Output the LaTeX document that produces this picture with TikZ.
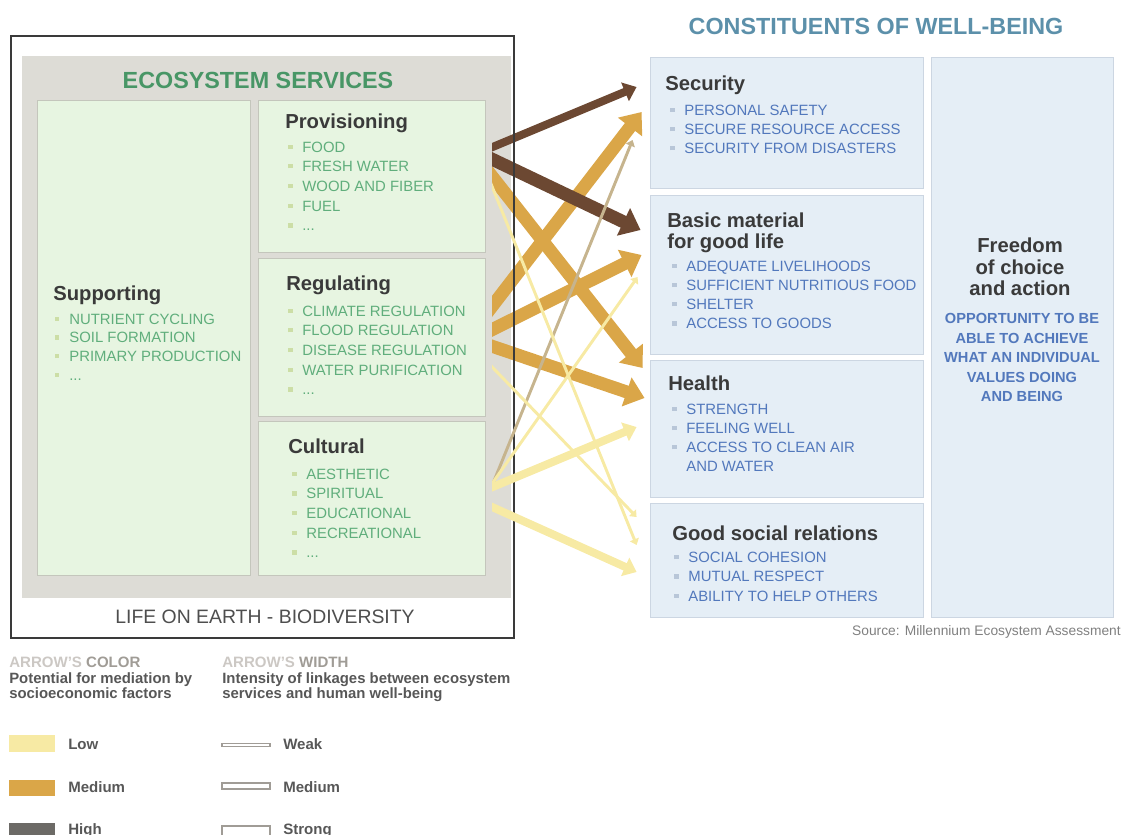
\documentclass[tikz,border=0pt]{standalone}
\usepackage{fontspec}
\setmainfont{Liberation Sans}
\usetikzlibrary{arrows.meta,calc,fit}
% panel and text colours
\definecolor{esgreen}{RGB}{72,150,102}
\definecolor{itgreen}{RGB}{96,174,124}
\definecolor{bgreen}{RGB}{204,222,166}
\definecolor{pgreen}{RGB}{231,245,225}
\definecolor{pedge}{RGB}{196,198,188}
\definecolor{pgray}{RGB}{221,220,214}
\definecolor{wbblue}{RGB}{92,144,170}
\definecolor{itblue}{RGB}{82,120,188}
\definecolor{bblue}{RGB}{184,198,216}
\definecolor{pblue}{RGB}{229,238,246}
\definecolor{bedge}{RGB}{204,214,226}
\definecolor{hdgray}{RGB}{58,58,58}
\definecolor{lggray}{RGB}{204,200,196}
\definecolor{lgmid}{RGB}{160,156,150}
% arrow colours
\definecolor{lowc}{RGB}{247,234,164}
\definecolor{medc}{RGB}{218,166,72}
\definecolor{tanc}{RGB}{198,180,142}
\definecolor{highc}{RGB}{108,72,50}
\definecolor{highsw}{RGB}{108,106,102}

\newcommand{\gbul}{\textcolor{bgreen}{\rule[2.4pt]{3pt}{3pt}}\hspace{7pt}}
\newcommand{\bbul}{\textcolor{bblue}{\rule[2.4pt]{3pt}{3pt}}\hspace{7pt}}

\begin{document}
\begin{tikzpicture}[x=0.25mm, y=-0.25mm,
    svc/.style={draw=pedge, fill=pgreen, line width=0.6pt, inner sep=0pt},
    wb/.style={draw=bedge, fill=pblue, line width=0.6pt, inner sep=0pt},
    head/.style={font=\fontsize{14.4}{15.3}\selectfont\bfseries, text=hdgray, inner sep=0pt, anchor=base west},
    svclist/.style={font=\fontsize{10.6}{14}\selectfont, text=itgreen, align=left, inner sep=0pt, anchor=north west},
    wblist/.style={font=\fontsize{10.6}{13.7}\selectfont, text=itblue, align=left, inner sep=0pt, anchor=north west},
    title/.style={font=\fontsize{16.6}{18}\selectfont\bfseries, inner sep=0pt},
    link/.style={-{Triangle[length=1.5pt 1.3, width=2.5pt 2]}},
    weak/.style={line width=2.1pt},
    medw/.style={line width=5.7pt},
    strong/.style={line width=9.2pt},
    legtxt/.style={font=\fontsize{10.7}{10.7}\selectfont\bfseries, text=hdgray!85, inner sep=0pt, anchor=base west},
    swatch/.style={inner sep=0pt, draw=none},
    wsample/.style={inner sep=0pt, draw=lgmid, fill=white, line width=0.8pt},
]
\useasboundingbox (0,0) rectangle (1124,835);

% === ECOSYSTEM SERVICES ===
\node[swatch, fill=pgray, fit={(22,56) (511,598)}] (es) {};
\node[title, text=esgreen] (estitle) at (258,80) {ECOSYSTEM SERVICES};
\node[svc, fit={(37,100) (250,575)}] (supp) {};
\node[svc, fit={(258,100) (485,252)}] (prov) {};
\node[svc, fit={(258,258) (485,416)}] (reg) {};
\node[svc, fit={(258,421) (485,575)}] (cult) {};
\node[font=\fontsize{13.8}{14}\selectfont, text=hdgray!90, inner sep=0pt] (life) at (265,617) {LIFE ON EARTH - BIODIVERSITY};

% Supporting
\node[head] (supph) at (53,300) {Supporting};
\node[svclist, font=\fontsize{10.6}{13.3}\selectfont] (suppl) at (55,313.5) {\gbul NUTRIENT CYCLING\\ \gbul SOIL FORMATION\\ \gbul PRIMARY PRODUCTION\\ \gbul ...};

% Provisioning
\node[head] (provh) at (285,128) {Provisioning};
\node[svclist] (provl) at (288,141.5) {\gbul FOOD\\ \gbul FRESH WATER\\ \gbul WOOD AND FIBER\\ \gbul FUEL\\ \gbul ...};

% Regulating
\node[head] (regh) at (286,290) {Regulating};
\node[svclist] (regl) at (288,305.5) {\gbul CLIMATE REGULATION\\ \gbul FLOOD REGULATION\\ \gbul DISEASE REGULATION\\ \gbul WATER PURIFICATION\\ \gbul ...};

% Cultural
\node[head] (culth) at (288,453) {Cultural};
\node[svclist] (cultl) at (292,468.5) {\gbul AESTHETIC\\ \gbul SPIRITUAL\\ \gbul EDUCATIONAL\\ \gbul RECREATIONAL\\ \gbul ...};

% === CONSTITUENTS OF WELL-BEING ===
\node[title, text=wbblue] (wbtitle) at (876,26) {CONSTITUENTS OF WELL-BEING};
\node[wb, fit={(650,57) (923,188)}] (sec) {};
\node[wb, fit={(650,195) (923,354)}] (basic) {};
\node[wb, fit={(650,360) (923,497)}] (health) {};
\node[wb, fit={(650,503) (923,617)}] (social) {};
\node[wb, fit={(931,57) (1113,617)}] (free) {};

\node[head] (sech) at (665,90) {Security};
\node[wblist] (secl) at (670,104.5) {\bbul PERSONAL SAFETY\\ \bbul SECURE RESOURCE ACCESS\\ \bbul SECURITY FROM DISASTERS};

\node[head, anchor=north west, align=left] (basich) at (667,212.5) {Basic material\\for good life};
\node[wblist] (basicl) at (672,260.5) {\bbul ADEQUATE LIVELIHOODS\\ \bbul SUFFICIENT NUTRITIOUS FOOD\\ \bbul SHELTER\\ \bbul ACCESS TO GOODS};

\node[head] (healthh) at (668,390) {Health};
\node[wblist] (healthl) at (672,403.5) {\bbul STRENGTH\\ \bbul FEELING WELL\\ \bbul ACCESS TO CLEAN AIR\\ \hspace{10pt}AND WATER};

\node[head] (socialh) at (672,540) {Good social relations};
\node[wblist] (sociall) at (674,552) {\bbul SOCIAL COHESION\\ \bbul MUTUAL RESPECT\\ \bbul ABILITY TO HELP OTHERS};

\node[head, anchor=north, align=center] (freeh) at (1020,238) {Freedom\\of choice\\and action};
\node[wblist, anchor=north, align=center, font=\fontsize{10.4}{13.9}\selectfont\bfseries] (freel) at (1022,313) {OPPORTUNITY TO BE\\ABLE TO ACHIEVE\\WHAT AN INDIVIDUAL\\VALUES DOING\\AND BEING};

\node[font=\fontsize{9.8}{10}\selectfont, text=gray, inner sep=0pt, anchor=east] (src) at (1121,632) {Source: Millennium Ecosystem Assessment};

% === LINKS (cut flush at the panel edge) ===
\begin{scope}
\clip (492,0) rectangle (1124,835);
% medium mediation
\draw[link, medc, strong] ($(reg.east)+(0,-22)$) -- ($(sec.west)+(-8,-10.5)$);
\draw[link, medc, strong] ($(prov.east)+(0,-8)$) -- ($(health.west)+(-7,-60.5)$);
\draw[link, medc, strong] ($(reg.east)+(0,-4)$) -- ($(basic.west)+(-8,-19.5)$);
\draw[link, medc, strong] ($(reg.east)+(0,7)$) -- ($(health.west)+(-5,-30.5)$);
% high mediation
\draw[link, highc, medw] ($(prov.east)+(0,-26)$) -- ($(sec.west)+(-13,-35.5)$);
\draw[link, highc, strong] ($(prov.east)+(0,-20)$) -- ($(basic.west)+(-9,-44.5)$);
\end{scope}

\node[draw=hdgray, line width=1.4pt, inner sep=0pt, fit={(11,36) (514,638)}] (frame) {};

\begin{scope}
\clip (492,0) rectangle (1124,835);
% low mediation
\draw[link, tanc, weak] ($(cult.east)+(0,4)$) -- ($(sec.west)+(-17,17.5)$);
\draw[link, lowc, weak] ($(prov.east)+(0,-6)$) -- ($(social.west)+(-13,-15)$);
\draw[link, lowc, weak] ($(reg.east)+(0,23)$) -- ($(social.west)+(-13,-43)$);
\draw[link, lowc, weak] ($(cult.east)+(0,-5)$) -- ($(basic.west)+(-12,2.5)$);
\draw[link, lowc, medw] ($(cult.east)+(0,-8)$) -- ($(health.west)+(-13,-1.5)$);
\draw[link, lowc, medw] ($(cult.east)+(0,6)$) -- ($(social.west)+(-13,12)$);
\end{scope}

% === LEGEND ===
\node[legtxt, text=lgmid] (colhead) at (9,667) {\textcolor{lggray}{ARROW'S} COLOR};
\node[legtxt, anchor=north west, align=left, font=\fontsize{10.6}{10.7}\selectfont\bfseries] (coltxt) at (9,672.5) {Potential for mediation by\\socioeconomic factors};
\node[legtxt, text=lgmid] (widhead) at (222,667) {\textcolor{lggray}{ARROW'S} WIDTH};
\node[legtxt, anchor=north west, align=left, font=\fontsize{10.6}{10.7}\selectfont\bfseries] (widtxt) at (222,672.5) {Intensity of linkages between ecosystem\\services and human well-being};

\node[swatch, fill=lowc, fit={(9,735) (55,752)}] (swlow) {};
\node[swatch, fill=medc, fit={(9,780) (55,796)}] (swmed) {};
\node[swatch, fill=highsw, fit={(9,823) (55,835)}] (swhigh) {};
\node[legtxt] (lablow) at (68,749) {Low};
\node[legtxt] (labmed) at (68,792.5) {Medium};
\node[legtxt] (labhigh) at (68,834) {High};

\node[wsample, fit={(222,743.5) (270,746.5)}] (wweak) {};
\node[wsample, fit={(222,783) (270,789)}] (wmed) {};
\node[wsample, fit={(222,826) (270,836)}] (wstrong) {};
\node[legtxt] (labweak) at (283,749) {Weak};
\node[legtxt] (labwmed) at (283,792.5) {Medium};
\node[legtxt] (labstrong) at (283,834) {Strong};
\end{tikzpicture}
\end{document}
